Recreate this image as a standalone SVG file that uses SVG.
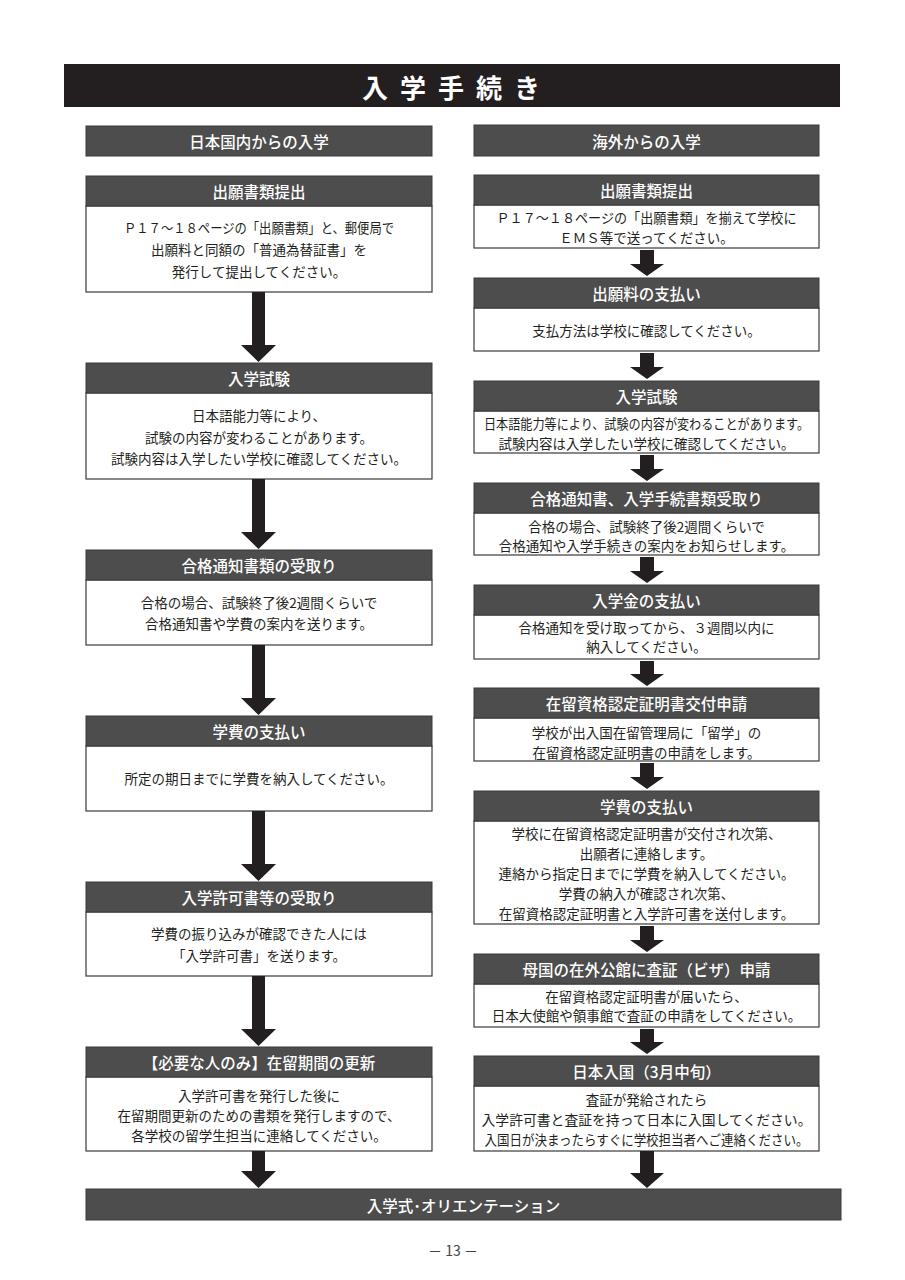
<svg xmlns="http://www.w3.org/2000/svg" width="905" height="1280" viewBox="0 0 905 1280">
<style>
text{font-family:"Noto Sans CJK JP","Noto Sans",sans-serif;dominant-baseline:central;text-anchor:middle}
.hd{fill:#4d4d4d;stroke:#3a3a3a;stroke-width:1}
.bd{fill:#fff;stroke:#3a3a3a;stroke-width:1.2}
.ht{fill:#fff;font-size:15.5px;font-weight:500}
.bt{fill:#231f20;font-size:13.5px}
.ar{fill:#231f20}
</style>
<rect width="905" height="1280" fill="#fff"/>
<g id="title">
<rect x="64" y="64" width="776" height="43" fill="#231f20"/>
<text x="375 413 451 489 527" y="86" fill="#fff" font-size="26" font-weight="700">入学手続き</text>
</g>
<g id="sec-left"><rect class="hd" x="86" y="126" width="346" height="30"/><text class="ht" x="259" y="141">日本国内からの入学</text></g>
<g id="sec-right"><rect class="hd" x="474" y="125" width="345" height="31"/><text class="ht" x="646.5" y="141">海外からの入学</text></g>

<g id="L1"><rect class="bd" x="86" y="206" width="346" height="86"/><rect class="hd" x="86" y="176" width="346" height="30"/><text class="ht" x="259" y="191">出願書類提出</text>
<text class="bt" x="259" y="227" textLength="270" lengthAdjust="spacingAndGlyphs">Ｐ１７～１８ページの「出願書類」と、郵便局で</text>
<text class="bt" x="259" y="249">出願料と同額の「普通為替証書」を</text>
<text class="bt" x="259" y="271">発行して提出してください。</text></g>

<g id="L2"><rect class="bd" x="86" y="393" width="346" height="86"/><rect class="hd" x="86" y="363" width="346" height="30"/><text class="ht" x="259" y="378">入学試験</text>
<text class="bt" x="259" y="415">日本語能力等により、</text>
<text class="bt" x="259" y="437">試験の内容が変わることがあります。</text>
<text class="bt" x="259" y="458">試験内容は入学したい学校に確認してください。</text></g>

<g id="L3"><rect class="bd" x="86" y="580" width="346" height="65"/><rect class="hd" x="86" y="550" width="346" height="30"/><text class="ht" x="259" y="565">合格通知書類の受取り</text>
<text class="bt" x="259" y="602">合格の場合、試験終了後2週間くらいで</text>
<text class="bt" x="259" y="623">合格通知書や学費の案内を送ります。</text></g>

<g id="L4"><rect class="bd" x="86" y="746" width="346" height="65"/><rect class="hd" x="86" y="716" width="346" height="30"/><text class="ht" x="259" y="731">学費の支払い</text>
<text class="bt" x="259" y="778">所定の期日までに学費を納入してください。</text></g>

<g id="L5"><rect class="bd" x="86" y="912" width="346" height="64"/><rect class="hd" x="86" y="882" width="346" height="30"/><text class="ht" x="259" y="897">入学許可書等の受取り</text>
<text class="bt" x="259" y="933">学費の振り込みが確認できた人には</text>
<text class="bt" x="259" y="955">「入学許可書」を送ります。</text></g>

<g id="L6"><rect class="bd" x="86" y="1077" width="346" height="74"/><rect class="hd" x="86" y="1047" width="346" height="30"/><text class="ht" x="259" y="1062">【必要な人のみ】在留期間の更新</text>
<text class="bt" x="259" y="1095">入学許可書を発行した後に</text>
<text class="bt" x="259" y="1115">在留期間更新のための書類を発行しますので、</text>
<text class="bt" x="259" y="1135">各学校の留学生担当に連絡してください。</text></g>

<g id="R1"><rect class="bd" x="474" y="205" width="345" height="43"/><rect class="hd" x="474" y="175" width="345" height="30"/><text class="ht" x="646.5" y="190">出願書類提出</text>
<text class="bt" x="646.5" y="217" font-size="13" textLength="300" lengthAdjust="spacingAndGlyphs">Ｐ１７～１８ページの「出願書類」を揃えて学校に</text>
<text class="bt" x="646.5" y="237" font-size="13">ＥＭＳ等で送ってください。</text></g>

<g id="R2"><rect class="bd" x="474" y="308" width="345" height="43"/><rect class="hd" x="474" y="278" width="345" height="30"/><text class="ht" x="646.5" y="293">出願料の支払い</text>
<text class="bt" x="646.5" y="330">支払方法は学校に確認してください。</text></g>

<g id="R3"><rect class="bd" x="474" y="411" width="345" height="42"/><rect class="hd" x="474" y="381" width="345" height="30"/><text class="ht" x="646.5" y="396">入学試験</text>
<text class="bt" x="646.5" y="423" textLength="325" lengthAdjust="spacingAndGlyphs">日本語能力等により、試験の内容が変わることがあります。</text>
<text class="bt" x="646.5" y="443">試験内容は入学したい学校に確認してください。</text></g>

<g id="R4"><rect class="bd" x="474" y="513" width="345" height="42"/><rect class="hd" x="474" y="483" width="345" height="30"/><text class="ht" x="646.5" y="498">合格通知書、入学手続書類受取り</text>
<text class="bt" x="646.5" y="526">合格の場合、試験終了後2週間くらいで</text>
<text class="bt" x="646.5" y="545">合格通知や入学手続きの案内をお知らせします。</text></g>

<g id="R5"><rect class="bd" x="474" y="615" width="345" height="44"/><rect class="hd" x="474" y="585" width="345" height="30"/><text class="ht" x="646.5" y="600">入学金の支払い</text>
<text class="bt" x="646.5" y="627">合格通知を受け取ってから、３週間以内に</text>
<text class="bt" x="646.5" y="646">納入してください。</text></g>

<g id="R6"><rect class="bd" x="474" y="718" width="345" height="43"/><rect class="hd" x="474" y="688" width="345" height="30"/><text class="ht" x="646.5" y="703">在留資格認定証明書交付申請</text>
<text class="bt" x="646.5" y="732">学校が出入国在留管理局に「留学」の</text>
<text class="bt" x="646.5" y="752">在留資格認定証明書の申請をします。</text></g>

<g id="R7"><rect class="bd" x="474" y="821" width="345" height="103"/><rect class="hd" x="474" y="791" width="345" height="30"/><text class="ht" x="646.5" y="806">学費の支払い</text>
<text class="bt" x="646.5" y="833">学校に在留資格認定証明書が交付され次第、</text>
<text class="bt" x="646.5" y="853">出願者に連絡します。</text>
<text class="bt" x="646.5" y="873">連絡から指定日までに学費を納入してください。</text>
<text class="bt" x="646.5" y="893">学費の納入が確認され次第、</text>
<text class="bt" x="646.5" y="913">在留資格認定証明書と入学許可書を送付します。</text></g>

<g id="R8"><rect class="bd" x="474" y="984" width="345" height="43"/><rect class="hd" x="474" y="954" width="345" height="30"/><text class="ht" x="646.5" y="969">母国の在外公館に査証（ビザ）申請</text>
<text class="bt" x="646.5" y="996">在留資格認定証明書が届いたら、</text>
<text class="bt" x="646.5" y="1015">日本大使館や領事館で査証の申請をしてください。</text></g>

<g id="R9"><rect class="bd" x="474" y="1086" width="345" height="65"/><rect class="hd" x="474" y="1056" width="345" height="30"/><text class="ht" x="646.5" y="1071">日本入国（3月中旬）</text>
<text class="bt" x="646.5" y="1099">査証が発給されたら</text>
<text class="bt" x="646.5" y="1119" textLength="330" lengthAdjust="spacingAndGlyphs">入学許可書と査証を持って日本に入国してください。</text>
<text class="bt" x="646.5" y="1139" textLength="324" lengthAdjust="spacingAndGlyphs">入国日が決まったらすぐに学校担当者へご連絡ください。</text></g>

<g id="footer"><rect class="hd" x="86" y="1189" width="755" height="31"/><text class="ht" x="463.5" y="1205">入学式･オリエンテーション</text></g>

<g id="connectors">
<polygon class="ar" points="252,292 265,292 265,345 276,345 258.5,362 241,345 252,345"/>
<polygon class="ar" points="252,479 265,479 265,532 276,532 258.5,549 241,532 252,532"/>
<polygon class="ar" points="252,645 265,645 265,698 276,698 258.5,715 241,698 252,698"/>
<polygon class="ar" points="252,811 265,811 265,864 276,864 258.5,881 241,864 252,864"/>
<polygon class="ar" points="252,976 265,976 265,1029 276,1029 258.5,1046 241,1029 252,1029"/>
<polygon class="ar" points="252,1151 265,1151 265,1171 276,1171 258.5,1188 241,1171 252,1171"/>
<polygon class="ar" points="640,250 654,250 654,264 664,264 647,276 630,264 640,264"/>
<polygon class="ar" points="640,353 654,353 654,367 664,367 647,379 630,367 640,367"/>
<polygon class="ar" points="640,455 654,455 654,469 664,469 647,481 630,469 640,469"/>
<polygon class="ar" points="640,557 654,557 654,571 664,571 647,583 630,571 640,571"/>
<polygon class="ar" points="640,661 654,661 654,674 664,674 647,686 630,674 640,674"/>
<polygon class="ar" points="640,763 654,763 654,777 664,777 647,789 630,777 640,777"/>
<polygon class="ar" points="640,926 654,926 654,940 664,940 647,952 630,940 640,940"/>
<polygon class="ar" points="640,1029 654,1029 654,1042 664,1042 647,1054 630,1042 640,1042"/>
<polygon class="ar" points="640,1151 654,1151 654,1173 664,1173 647,1188 630,1173 640,1173"/>
</g>
<text x="453" y="1250" fill="#444" font-size="14">－ 13 －</text>
</svg>
